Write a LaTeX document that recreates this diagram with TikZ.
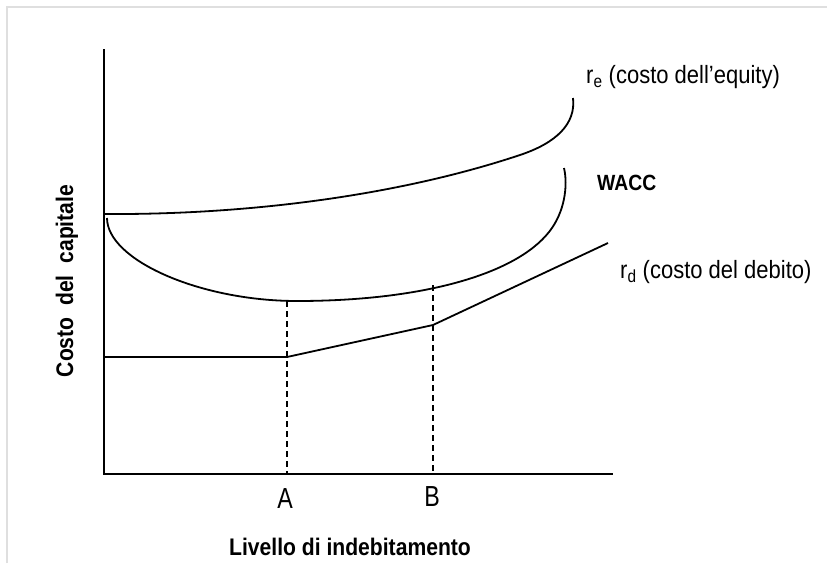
\documentclass[tikz,border=0pt]{standalone}
\usepackage{fontspec}
\setmainfont{Liberation Sans}[FakeStretch=0.88]
\newfontfamily\narrowfont{Liberation Sans}[FakeStretch=0.8]
\usepackage{tikz}

\tikzset{
  curve/.style={black, line width=1.8pt},
  guide/.style={black, line width=1.4pt, dash pattern=on 6pt off 4pt},
  lbl/.style={font=\fontsize{25}{28}\selectfont, inner sep=0pt},
  axlbl/.style={font=\fontsize{24}{27}\selectfont\bfseries, inner sep=0pt},
  ticklbl/.style={font=\narrowfont\fontsize{29}{31}\selectfont, inner sep=0pt},
}

\begin{document}
\begin{tikzpicture}[x=1pt, y=-1pt]
\useasboundingbox (0,0) rectangle (827,563);
% frame
\draw[gray!25, line width=2pt] (7,563) -- (7,7) -- (827,7);
% axes
\draw[curve] (104,49) coordinate (ytop) -- (104,474) coordinate (origin) -- (613,474) coordinate (xend);
\node [axlbl, rotate=90] (ylabel) at (67,281) {Costo\ \ del\ \ capitale};
\node [axlbl] (xlabel) at (350,547) {Livello di indebitamento};
% r_e
\draw[curve] (104,214) .. controls (250,215) and (400,195) .. (520,155)
  .. controls (556,143) and (576,124) .. (573,98);
\node [lbl, anchor=west] (re) at (586,77) {r\textsubscript{e} (costo dell’equity)};
% WACC
\draw[curve] (107,218) .. controls (107,260) and (200,301) .. (297,301) coordinate (wmin)
  .. controls (420,301) and (515,275) .. (549,232)
  .. controls (565,212) and (568,185) .. (564,168);
\coordinate (wa) at (287,301);
\node [axlbl, font=\fontsize{22}{25}\selectfont\bfseries, anchor=west] (wacc) at (597,183) {WACC};
% r_d
\draw[curve] (104,357) -- (287,357) coordinate (ra) -- (433,325) coordinate (rb) -- (608,243);
\node [lbl, anchor=west] (rd) at (620,272) {r\textsubscript{d} (costo del debito)};
% A and B
\coordinate (wb) at (433,285);
\draw[guide] (wa) -- (wa |- origin);
\draw[guide] (wb) -- (wb |- origin);
\node [ticklbl] (A) at (285,499) {A};
\node [ticklbl] (B) at (432,497) {B};
\end{tikzpicture}
\end{document}
